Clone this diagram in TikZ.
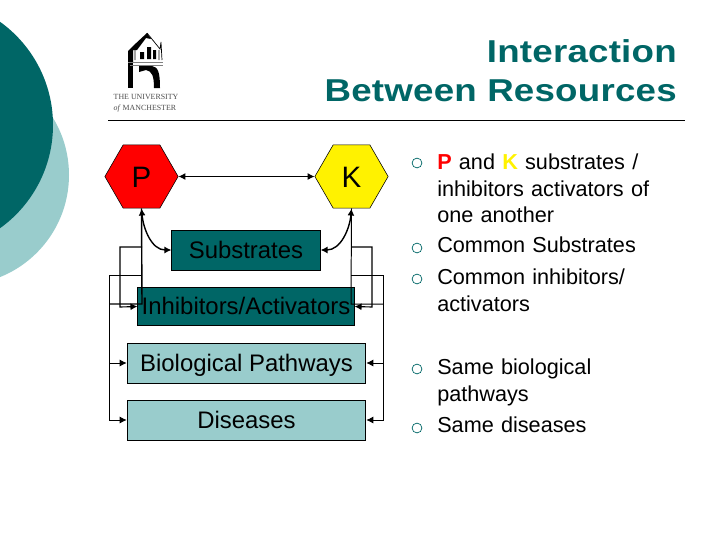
\documentclass[tikz,border=0pt]{standalone}
\usepackage{fontspec}
\setmainfont{Liberation Sans}
\newfontfamily\logofont{Liberation Serif}
\newfontfamily\titlefont[FakeStretch=1.16,LetterSpace=0.7]{Liberation Sans}
\usetikzlibrary{shapes.geometric,arrows.meta}
\definecolor{tealdark}{RGB}{0,102,102}
\definecolor{teallight}{RGB}{153,204,204}
\begin{document}
\begin{tikzpicture}[x=0.025cm,y=-0.025cm,
  hex/.style={draw=black, regular polygon, regular polygon sides=6,
              minimum size=1.83cm, inner sep=0pt, text height=15pt, text depth=0pt,
              font=\fontsize{21}{21}\selectfont},
  res/.style={draw=black, rectangle, fill=tealdark, inner sep=0pt, line width=0.7pt,
              text height=12pt, text depth=0pt, font=\fontsize{17}{17}\selectfont},
  dis/.style={res, fill=teallight},
  bul/.style={align=left, anchor=north west, inner sep=0pt, text width=5.6cm,
              font=\fontsize{15.4}{18.8}\selectfont},
  bulmark/.style={draw=tealdark, circle, minimum size=7pt, inner sep=0pt, line width=0.5pt},
  a/.style={-{Latex[length=5pt,width=5pt]}},
  ab/.style={{Latex[length=5pt,width=5pt]}-{Latex[length=5pt,width=5pt]}}]

  \useasboundingbox (0,0) rectangle (720,540);
  \clip (0,0) rectangle (720,540);

  % background
  \fill[teallight] (-41,175) circle (110);
  \fill[tealdark]  (-74,125) circle (127);

  % logo
  \fill[black] (128,62) -- (128,51) -- (133,46) -- (147,33) -- (151,39) -- (146,38) -- (137,50) -- (133,50) -- (133,62) -- cycle;
  \draw[black, line width=0.5pt] (147,33) -- (160,49) -- (161,42) -- (162,60) (135,50) -- (135,60) (159,50) -- (159,60);
  \fill[black] (140,52) rectangle (144,59) (147,47) rectangle (151,59) (153,50) rectangle (156,59);
  \fill[black] (128,62) rectangle (133,88);
  \fill[black] (139,66) -- (152,66) .. controls (158,67) and (160,72) .. (160,88) -- (154,88)
    .. controls (154,76) and (152,71) .. (146,70) -- (139,72) -- cycle;
  \draw[gray, line width=0.5pt] (128,62) -- (163,62) (130,65) -- (163,65);
  \node[font=\logofont\fontsize{5.6}{8}\selectfont, text=black!70, align=left, inner sep=0pt] (uni) at (146,103)
    {THE UNIVERSITY\\\textit{of} MANCHESTER};

  % title
  \node[anchor=east, align=right, inner sep=0pt, text=tealdark,
        font=\titlefont\bfseries\fontsize{22.5}{28}\selectfont] (title) at (677,71)
    {Interaction\\Between Resources};
  \draw[line width=0.7pt] (108,120) -- (685,120);

  \node[hex, fill=red]    (p) at (141.5,176.5) {P};
  \node[hex, fill=yellow] (k) at (351.5,176.5) {K};
  \node[res, minimum width=3.7cm, minimum height=1cm]   (sub) at (246,250)   {Substrates};
  \node[res, minimum width=5.4cm, minimum height=0.97cm] (inh) at (246,306.5) {Inhibitors/Activators};
  \node[dis, minimum width=5.96cm, minimum height=1cm]  (bio) at (246.5,363) {Biological Pathways};
  \node[dis, minimum width=5.96cm, minimum height=1cm]  (dis) at (246.5,420) {Diseases};

  \coordinate (lo1) at (120,247);
  \coordinate (lo2) at (109,275);
  \coordinate (ro1) at (372,247);
  \coordinate (ro2) at (383,275);

  \draw[ab, line width=0.7pt] (p) -- (k);
  \draw[ab, line width=1pt] (p.south) to[out=-85, in=180] (sub.west);
  \draw[ab, line width=1pt] (k.south) to[out=-95, in=0] (sub.east);

  % left side
  \draw[line width=1pt] (p.south) -- (142,304) -- (109,304);
  \draw[a, line width=0.8pt] (142,247) -- (lo1) -- (120,307) -- (inh.west);
  \draw[a, line width=0.7pt] (142,275) -- (lo2) -- (109,420) -- (dis.west);
  \draw[a, line width=0.7pt] (109,363) -- (bio.west);

  % right side
  \draw[line width=0.7pt] (k.south) -- (351,304) -- (383,304);
  \draw[a, line width=0.8pt] (351,247) -- (ro1) -- (372,307) -- (inh.east);
  \draw[a, line width=0.7pt] (351,275) -- (ro2) -- (383,420) -- (dis.east);
  \draw[a, line width=0.7pt] (383,363) -- (bio.east);

  % bullets
  \node[bulmark] (m1) at (417,163) {};
  \node[bulmark] (m2) at (417,248) {};
  \node[bulmark] (m3) at (417,279) {};
  \node[bulmark] (m4) at (417,369) {};
  \node[bulmark] (m5) at (417,428) {};
  \node[bul] (b1) at (437,154) {\textcolor{red}{\textbf{P}} and \textcolor{yellow}{\textbf{K}} substrates /\\inhibitors activators of\\one another};
  \node[bul] (b2) at (437,237) {Common Substrates};
  \node[bul] (b3) at (437,269) {Common inhibitors/\\activators};
  \node[bul] (b4) at (437,359) {Same biological\\pathways};
  \node[bul] (b5) at (437,417) {Same diseases};

\end{tikzpicture}
\end{document}
